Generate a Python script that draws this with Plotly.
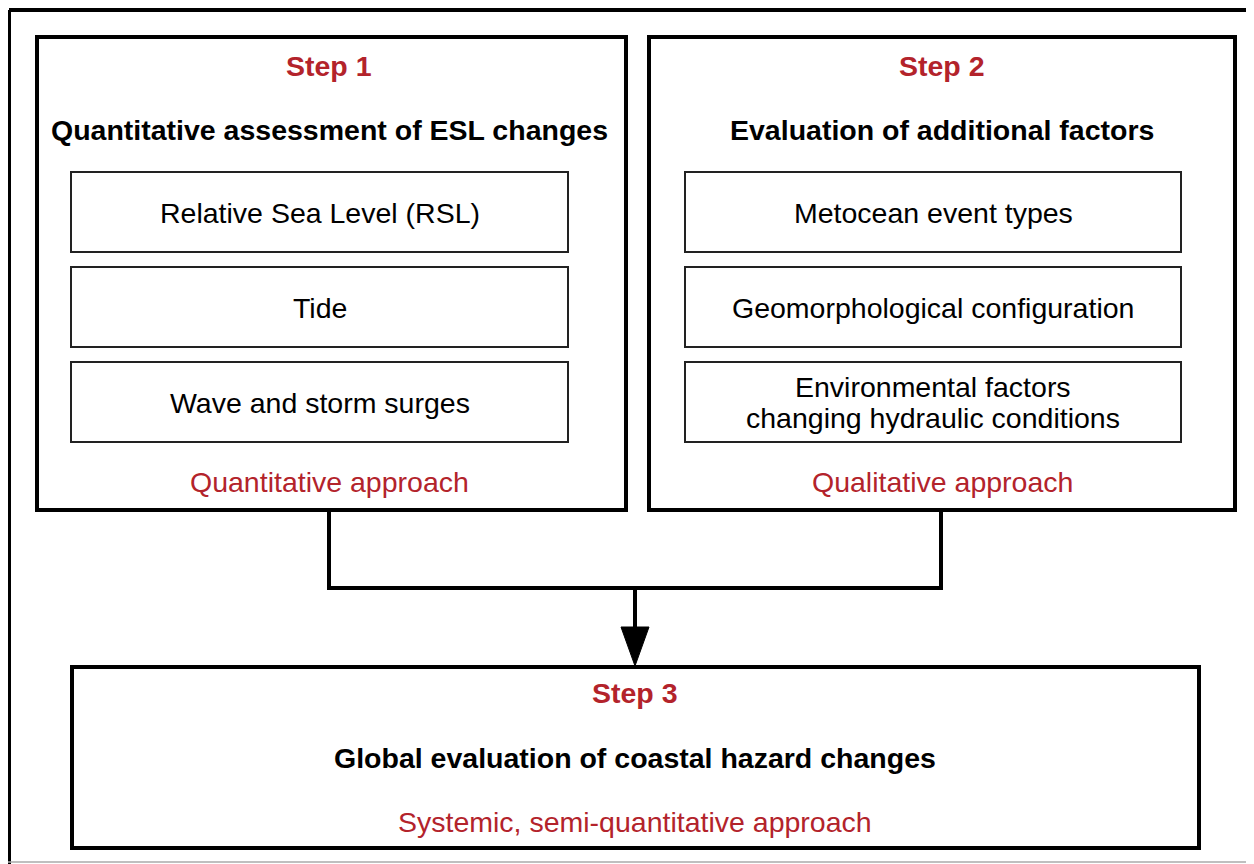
import plotly.graph_objects as go

# ---- text content ----
step_labels = ["Step 1", "Step 2", "Step 3"]
step_titles = ["Quantitative assessment of ESL changes",
               "Evaluation of additional factors",
               "Global evaluation of coastal hazard changes"]
step1_items = ["Relative Sea Level (RSL)", "Tide", "Wave and storm surges"]
step2_items = ["Metocean event types", "Geomorphological configuration",
               "Environmental factors<br>changing hydraulic conditions"]
approaches = ["Quantitative approach", "Qualitative approach",
              "Systemic, semi-quantitative approach"]

W, H = 1254, 864
OFF = 8  # page body margin
RED = "#B3232B"
FONT = "Liberation Sans, Arial, sans-serif"
FS = 28.5
LINE_GAP = 31

fig = go.Figure()
shapes = []
ann = []

def rect(x0, y0, x1, y1, w, color="black"):
    shapes.append(dict(type="rect", xref="x", yref="y", x0=x0, y0=y0, x1=x1, y1=y1,
                       line=dict(color=color, width=w), fillcolor="rgba(0,0,0,0)", layer="above"))

def line(x0, y0, x1, y1, w, color="black"):
    shapes.append(dict(type="line", xref="x", yref="y", x0=x0, y0=y0, x1=x1, y1=y1,
                       line=dict(color=color, width=w), layer="above"))

def text(x, y, s, color="black", bold=False, size=FS):
    parts = s.split("<br>")
    n = len(parts)
    for k, p in enumerate(parts):
        yy = y + (k - (n - 1) / 2) * LINE_GAP
        ann.append(dict(x=x, y=yy, xref="x", yref="y", text=(f"<b>{p}</b>" if bold else p),
                        showarrow=False, xanchor="center", yanchor="middle",
                        font=dict(family=FONT, size=size, color=color)))

# outer frame (right side runs off the picture)
line(9, 10, 1270, 10, 4)
line(9, 10, 9, 880, 4)
line(0, 862, 1270, 862, 1.5, "#aaaaaa")

# step boxes
boxes = [(37, 37, 626, 510), (649, 37, 1235, 510), (72, 667, 1199, 848)]
for b in boxes:
    rect(*b, 4)

# inner item boxes
rows = [(172, 252), (267, 347), (362, 442)]
for (x0, x1), items in [((71, 568), step1_items), ((685, 1181), step2_items)]:
    for (y0, y1), s in zip(rows, items):
        rect(x0, y0, x1, y1, 2, "#222222")
        text((x0 + x1) / 2, (y0 + y1) / 2 + 0.5, s)

# connectors
line(329, 510, 329, 588, 4)
line(941, 510, 941, 588, 4)
line(327, 588, 943, 588, 4)
line(635, 588, 635, 630, 4)
shapes.append(dict(type="path", xref="x", yref="y", path="M 621,627 L 649,627 L 635,666 Z",
                   fillcolor="black", line=dict(color="black", width=1), layer="above"))

# step texts
centers = [329, 942, 635]
label_y = [66, 66, 693]
title_y = [130, 130, 758]
appr_y = [482, 482, 822]
for i in range(3):
    text(centers[i], label_y[i], step_labels[i], RED, bold=True)
    text(centers[i], title_y[i], step_titles[i], "black", bold=True)
    text(centers[i], appr_y[i], approaches[i], RED)

fig.update_layout(
    width=W - OFF, height=H - OFF, margin=dict(l=0, r=0, t=0, b=0),
    paper_bgcolor="white", plot_bgcolor="white",
    xaxis=dict(range=[OFF, W], visible=False, fixedrange=True),
    yaxis=dict(range=[H, OFF], visible=False, fixedrange=True),
    shapes=shapes, annotations=ann, showlegend=False,
)
fig.write_html("out.html")
